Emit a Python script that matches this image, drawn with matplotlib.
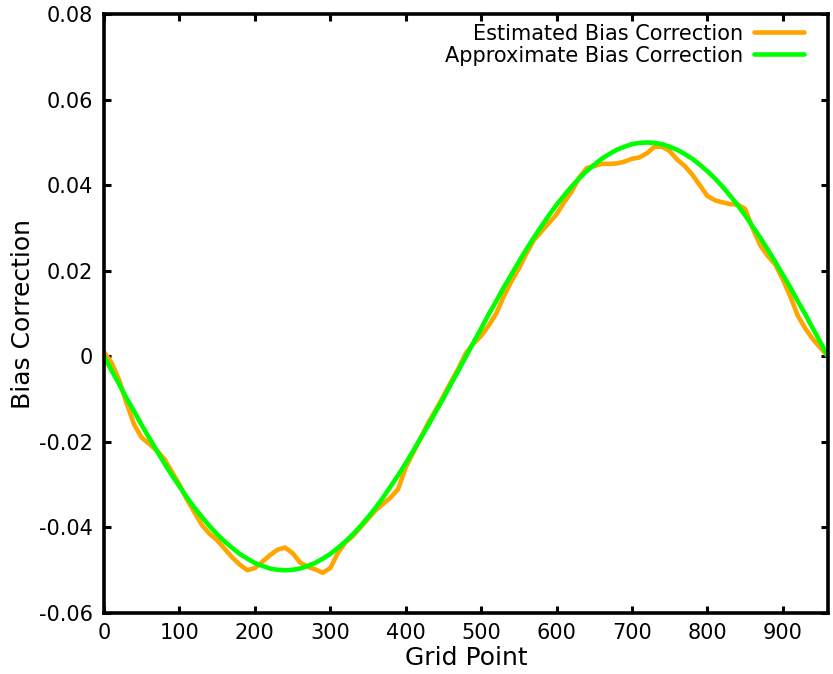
import matplotlib
matplotlib.use("Agg")
import matplotlib.pyplot as plt

x_est = [0, 10, 20, 30, 40, 50, 60, 70, 80, 90, 100, 110, 120, 130, 140, 150, 160, 170, 180, 190,
         200, 210, 220, 230, 240, 250, 260, 270, 280, 290, 300, 310, 320, 330, 340, 350, 360, 370, 380, 390,
         400, 410, 420, 430, 440, 450, 460, 470, 480, 490, 500, 510, 520, 530, 540, 550, 560, 570, 580, 590,
         600, 610, 620, 630, 640, 650, 660, 670, 680, 690, 700, 710, 720, 730, 740, 750, 760, 770, 780, 790,
         800, 810, 820, 830, 840, 850, 860, 870, 880, 890, 900, 910, 920, 930, 940, 950, 960]
y_est = [0.0010, -0.0015, -0.0055, -0.0110, -0.0160, -0.0190, -0.0205, -0.0220, -0.0240, -0.0270,
         -0.0300, -0.0335, -0.0365, -0.0395, -0.0415, -0.0430, -0.0450, -0.0470, -0.0487, -0.0500,
         -0.0495, -0.0480, -0.0465, -0.0452, -0.0447, -0.0460, -0.0482, -0.0492, -0.0498, -0.0506,
         -0.0495, -0.0460, -0.0435, -0.0420, -0.0400, -0.0380, -0.0360, -0.0345, -0.0330, -0.0310,
         -0.0260, -0.0225, -0.0190, -0.0155, -0.0125, -0.0093, -0.0060, -0.0028, 0.0008, 0.0030,
         0.0048, 0.0072, 0.0100, 0.0140, 0.0175, 0.0205, 0.0240, 0.0272, 0.0292, 0.0312,
         0.0332, 0.0360, 0.0385, 0.0418, 0.0440, 0.0445, 0.0450, 0.0450, 0.0451, 0.0455,
         0.0462, 0.0465, 0.0475, 0.0490, 0.0490, 0.0480, 0.0460, 0.0445, 0.0425, 0.0400,
         0.0375, 0.0365, 0.0360, 0.0356, 0.0355, 0.0345, 0.0300, 0.0260, 0.0235, 0.0215,
         0.0180, 0.0140, 0.0095, 0.0065, 0.0040, 0.0020, 0.0000]

x_apx = [0, 10, 20, 30, 40, 50, 60, 70, 80, 90, 100, 110, 120, 130, 140, 150, 160, 170, 180, 190,
         200, 210, 220, 230, 240, 250, 260, 270, 280, 290, 300, 310, 320, 330, 340, 350, 360, 370, 380, 390,
         400, 410, 420, 430, 440, 450, 460, 470, 480, 490, 500, 510, 520, 530, 540, 550, 560, 570, 580, 590,
         600, 610, 620, 630, 640, 650, 660, 670, 680, 690, 700, 710, 720, 730, 740, 750, 760, 770, 780, 790,
         800, 810, 820, 830, 840, 850, 860, 870, 880, 890, 900, 910, 920, 930, 940, 950, 960]
y_apx = [0.0, -0.0033, -0.0065, -0.0098, -0.0129, -0.0161, -0.0191, -0.0221, -0.0250, -0.0278,
         -0.0304, -0.0330, -0.0354, -0.0376, -0.0397, -0.0416, -0.0433, -0.0448, -0.0462, -0.0473,
         -0.0483, -0.0490, -0.0496, -0.0499, -0.0500,
         -0.0499, -0.0496, -0.0490, -0.0483, -0.0473, -0.0462, -0.0448, -0.0433, -0.0416, -0.0397,
         -0.0376, -0.0354, -0.0330, -0.0304, -0.0278, -0.0250, -0.0221, -0.0191, -0.0161, -0.0129,
         -0.0098, -0.0065, -0.0033, 0.0,
         0.0033, 0.0065, 0.0098, 0.0129, 0.0161, 0.0191, 0.0221, 0.0250, 0.0278, 0.0304,
         0.0330, 0.0354, 0.0376, 0.0397, 0.0416, 0.0433, 0.0448, 0.0462, 0.0473, 0.0483,
         0.0490, 0.0496, 0.0499, 0.0500,
         0.0499, 0.0496, 0.0490, 0.0483, 0.0473, 0.0462, 0.0448, 0.0433, 0.0416, 0.0397,
         0.0376, 0.0354, 0.0330, 0.0304, 0.0278, 0.0250, 0.0221, 0.0191, 0.0161, 0.0129,
         0.0098, 0.0065, 0.0033, 0.0]

x_ticks = [0, 100, 200, 300, 400, 500, 600, 700, 800, 900]
y_ticks = [-0.06, -0.04, -0.02, 0, 0.02, 0.04, 0.06, 0.08]
y_tick_labels = ["-0.06", "-0.04", "-0.02", "0", "0.02", "0.04", "0.06", "0.08"]

plt.rcParams['font.family'] = ['DejaVu Sans']
fig = plt.figure(figsize=(8.33, 6.74), dpi=100)
ax = fig.add_axes([0.1249, 0.0905, 0.994 - 0.1249, 0.979 - 0.0905])

ax.plot(x_est, y_est, color='#FFA500', lw=3.3, label='Estimated Bias Correction',
        solid_joinstyle='round', solid_capstyle='round')
ax.plot(x_apx, y_apx, color='#00FF00', lw=3.3, label='Approximate Bias Correction',
        solid_joinstyle='round', solid_capstyle='round')

ax.set_xlim(0, 960)
ax.set_ylim(-0.06, 0.08)
ax.set_xticks(x_ticks)
ax.set_yticks(y_ticks)
ax.set_yticklabels(y_tick_labels)
ax.tick_params(direction='in', length=5, width=2.2, labelsize=15, top=True, right=True)
ax.tick_params(axis='y', pad=8)
ax.tick_params(axis='x', pad=7)
for s in ax.spines.values():
    s.set_linewidth(2.6)

ax.set_xlabel('Grid Point', fontsize=18, labelpad=2)
ax.set_ylabel('Bias Correction', fontsize=18, labelpad=3)

leg = ax.legend(loc='upper right', frameon=False, markerfirst=False, fontsize=15,
                handlelength=2.4, bbox_to_anchor=(0.98, 1.0), borderaxespad=0.0,
                borderpad=0.45, labelspacing=0.1, handletextpad=0.55)
for t in leg.get_texts():
    t.set_ha('right')

fig.savefig('out.png', dpi=100)
